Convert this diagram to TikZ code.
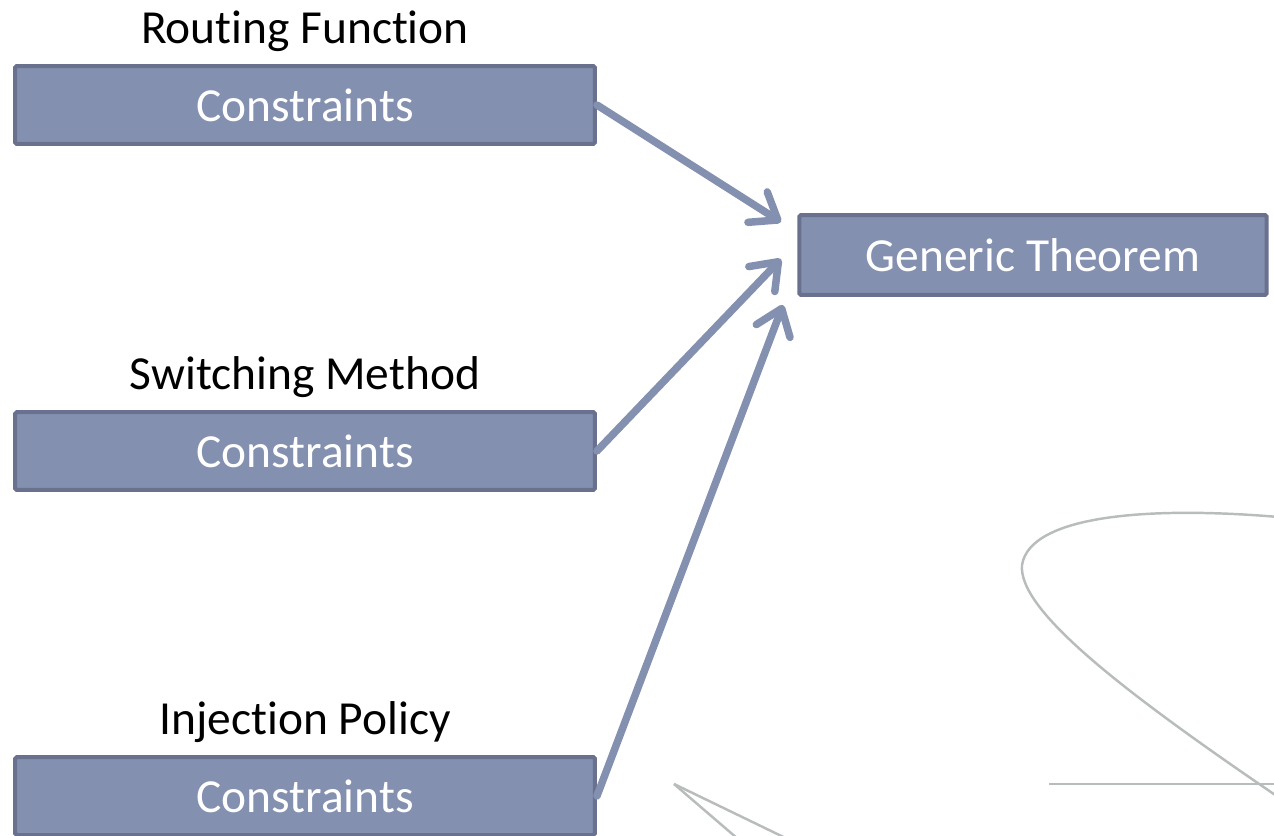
\documentclass[tikz,border=0pt]{standalone}
\usepackage{fontspec}
\setmainfont{Carlito}[Ligatures={NoCommon}]
\usepackage{xcolor}
\usepackage{tikz}
\usetikzlibrary{arrows.meta,positioning}
\definecolor{boxfill}{RGB}{132,144,176}
\definecolor{boxedge}{RGB}{106,113,142}
\definecolor{swirl}{RGB}{184,188,188}
\tikzset{
  cbox/.style={draw=boxedge,fill=boxfill,line width=0.08cm,rounded corners=1pt,
    minimum width=11.6cm,minimum height=1.56cm,font=\fontsize{27}{30}\selectfont,text=white},
  lbl/.style={inner sep=0pt,text depth=0pt,font=\fontsize{27}{30}\selectfont},
  arr/.style={draw=boxfill,line width=0.15cm,line cap=round,
    -{Straight Barb[length=0.48cm,width=0.72cm,round]}},
  deco/.style={draw=swirl,line width=1.4pt},
}
\begin{document}
\begin{tikzpicture}[x=0.02cm,y=-0.02cm]
\useasboundingbox (0,0) rectangle (1274,835);
% faint background swirl
\draw[deco] (1290,518) .. controls (1150,505) and (1030,515) .. (1022,565)
  .. controls (1018,610) and (1120,690) .. (1290,805);
\draw[deco] (1049,784) -- (1290,784);
\draw[deco] (674,784) -- (745,845);
\draw[deco] (674,784) -- (800,845);
% constraint boxes
\node[cbox] (c1) at (305,105) {Constraints};
\node[cbox] (c2) at (305,451) {Constraints};
\node[cbox] (c3) at (305,796) {Constraints};
\node[lbl,above=0.4cm of c1] (rf) {Routing Function};
\node[lbl,above=0.4cm of c2] (sm) {Switching Method};
\node[lbl,above=0.4cm of c3] (ip) {Injection Policy};
% result
\node[cbox,minimum width=9.35cm,minimum height=1.6cm] (gen) at (1033,255) {Generic Theorem};
\coordinate (t1) at (781,222);
\coordinate (t2) at (781,259);
\coordinate (t3) at (783,305);
\draw[arr] (c1.east) -- (t1);
\draw[arr] (c2.east) -- (t2);
\draw[arr] (c3.east) -- (t3);
\end{tikzpicture}
\end{document}
